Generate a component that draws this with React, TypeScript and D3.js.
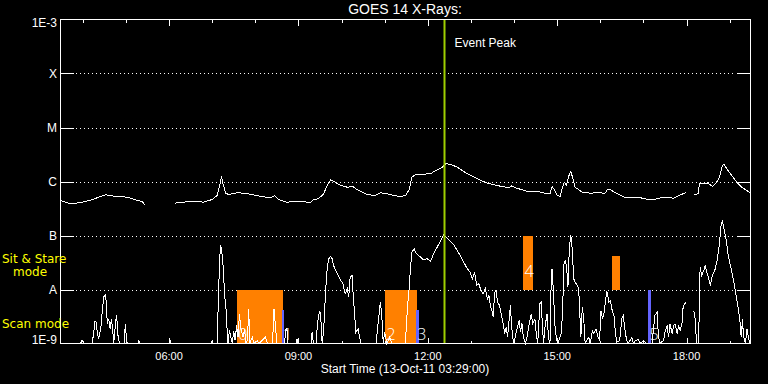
import * as d3 from "d3";

const DAY = "2011-10-13";
const START = "03:29";
const END = "19:29";
const PEAK = "12:22";

const yTickValues = [1e-3, 1e-4, 1e-5, 1e-6, 1e-7, 1e-8, 1e-9];
const yTickLabels = ["1E-3", "X", "M", "C", "B", "A", "1E-9"];
const gridLevels = [1e-4, 1e-5, 1e-6, 1e-7, 1e-8];

// GOES 1-8 A channel (W/m2), null = data gap
const longChannel: [string, number | null][] = [
  ["03:29", 4.45e-7], ["03:38", 4.03e-7], ["03:45", 3.86e-7], ["03:57", 4.08e-7],
  ["04:13", 4.58e-7], ["04:22", 5.12e-7], ["04:32", 5.67e-7], ["04:43", 5.35e-7],
  ["05:02", 5.12e-7], ["05:16", 4.45e-7], ["05:23", 4.26e-7], ["05:26", 3.7e-7],
  ["05:40", null],
  ["06:08", 3.97e-7], ["06:20", 4.14e-7], ["06:34", 4.32e-7], ["06:48", 4.14e-7],
  ["07:00", 4.64e-7], ["07:07", 5.51e-7], ["07:11", 9.06e-7], ["07:13", 1.24e-6],
  ["07:15", 9.06e-7], ["07:19", 6.07e-7], ["07:23", 5.74e-7], ["07:35", 6.18e-7],
  ["07:46", 6.07e-7], ["08:03", 5.43e-7], ["08:21", 4.99e-7], ["08:27", 5.43e-7],
  ["08:33", 4.58e-7], ["08:44", 4.14e-7], ["08:54", 4.26e-7], ["09:17", 4.14e-7],
  ["09:21", 4.58e-7], ["09:28", 4.79e-7], ["09:35", 5.92e-7], ["09:40", 8.43e-7],
  ["09:45", 1.07e-6], ["09:49", 1.01e-6], ["09:59", 8.43e-7], ["10:08", 7.84e-7],
  ["10:16", 8.07e-7], ["10:22", 7.02e-7], ["10:36", 5.74e-7], ["10:47", 5.51e-7],
  ["10:54", 6.18e-7], ["11:03", 5.92e-7], ["11:13", 5.51e-7], ["11:22", 5.28e-7],
  ["11:29", 5.51e-7], ["11:34", 7.02e-7], ["11:38", 1.2e-6], ["11:43", 1.35e-6],
  ["12:04", 1.39e-6], ["12:08", 1.51e-6], ["12:20", 1.84e-6], ["12:25", 2.13e-6],
  ["12:32", 2.07e-6], ["12:41", 1.84e-6], ["12:55", 1.39e-6], ["13:09", 1.12e-6],
  ["13:23", 9.3e-7], ["13:41", 8.18e-7], ["13:53", 7.64e-7], ["13:56", 8.3e-7],
  ["14:02", 7.64e-7], ["14:18", 6.61e-7], ["14:32", 6.61e-7], ["14:46", 5.92e-7],
  ["14:50", 5.92e-7], ["14:53", 8.18e-7], ["14:56", 7.02e-7], ["15:00", 5.51e-7],
  ["15:04", 5.28e-7], ["15:07", 7.32e-7], ["15:10", 9.7e-7], ["15:13", 8.43e-7],
  ["15:16", 1.24e-6], ["15:19", 1.55e-6], ["15:22", 1.12e-6], ["15:25", 7.84e-7],
  ["15:35", 6.34e-7], ["15:46", 6.07e-7], ["16:00", 6.26e-7], ["16:06", 5.92e-7],
  ["16:10", 7.1e-7], ["16:14", 7.1e-7], ["16:21", 6.18e-7], ["16:33", 5.12e-7],
  ["16:47", 5.12e-7], ["16:56", 4.99e-7], ["17:05", 4.7e-7], ["17:14", 4.64e-7],
  ["17:28", 5.12e-7], ["17:42", 4.91e-7], ["17:49", 5.51e-7], ["17:59", 6.18e-7],
  ["18:05", null],
  ["18:10", 5.74e-7], ["18:16", 5.92e-7], ["18:18", 9.06e-7], ["18:22", 9.3e-7],
  ["18:26", 9.06e-7], ["18:29", 9.46e-7], ["18:36", 8.07e-7], ["18:40", 9.06e-7],
  ["18:45", 1.12e-6], ["18:50", 1.98e-6], ["18:52", 2.07e-6], ["18:56", 1.72e-6],
  ["19:01", 1.39e-6], ["19:10", 9.7e-7], ["19:17", 7.84e-7], ["19:27", 6.34e-7],
  ["19:29", 6.07e-7],
];

// GOES 0.5-4 A channel (W/m2), 1e-9 = at the floor
const shortChannel: [string, number | null][] = [
  ["03:29", 1e-9], ["03:57", 1e-9], ["03:59", 1.17e-9], ["04:01", 1e-9], ["04:13", 1e-9],
  ["04:15", 1.51e-9], ["04:17", 2.61e-9], ["04:19", 2.48e-9], ["04:20", 1.62e-9],
  ["04:22", 1.24e-9], ["04:25", 1.87e-9], ["04:27", 3.8e-9], ["04:29", 7.2e-9],
  ["04:31", 7.98e-9], ["04:33", 5.82e-9], ["04:34", 2.32e-9], ["04:36", 2.87e-9],
  ["04:38", 1.87e-9], ["04:40", 2.87e-9], ["04:42", 1.51e-9], ["04:43", 1e-9],
  ["04:46", 2.67e-9], ["04:47", 3.4e-9], ["04:49", 1.41e-9], ["04:51", 1e-9],
  ["04:58", 1e-9], ["04:59", 2.32e-9], ["05:01", 1.14e-9], ["05:02", 1e-9],
  ["05:17", 1e-9], ["05:18", 1.14e-9], ["05:19", 1e-9], ["06:00", 1e-9],
  ["06:01", 1.28e-9], ["06:02", 1e-9], ["06:59", 1e-9], ["07:00", 1.14e-9],
  ["07:01", 1e-9], ["07:07", 1e-9], ["07:09", 1.03e-8], ["07:11", 4.91e-8],
  ["07:12", 6.53e-8], ["07:14", 4.26e-8], ["07:16", 2.09e-8], ["07:17", 8.32e-9],
  ["07:19", 5.05e-9], ["07:21", 1.62e-9], ["07:22", 1e-9], ["07:24", 1.74e-9],
  ["07:26", 1.31e-9], ["07:28", 1e-9], ["07:30", 1.67e-9], ["07:32", 1.14e-9],
  ["07:34", 2.15e-9], ["07:36", 1.31e-9], ["07:38", 3.55e-9], ["07:40", 1.87e-9],
  ["07:43", 1.31e-9], ["07:45", 1.87e-9], ["07:47", 1e-9], ["07:49", 1.14e-9],
  ["07:51", 4.39e-9], ["07:52", 1e-9], ["07:56", 1.31e-9], ["07:58", 1e-9],
  ["08:03", 1.14e-9], ["08:05", 1e-9], ["08:14", 1.31e-9], ["08:17", 1e-9],
  ["08:24", 1e-9], ["08:26", 4.39e-9], ["08:28", 2.15e-9], ["08:30", 1e-9],
  ["08:41", 1e-9], ["08:42", 1.82e-9], ["08:44", 1.92e-9], ["08:45", 1e-9],
  ["08:57", 1e-9], ["08:58", 1.22e-9], ["08:59", 1e-9], ["09:18", 1e-9],
  ["09:19", 1.62e-9], ["09:21", 1e-9], ["09:25", 1e-9], ["09:26", 1.87e-9],
  ["09:28", 3.3e-9], ["09:30", 3.91e-9], ["09:32", 2.15e-9], ["09:33", 1e-9],
  ["09:35", 1.62e-9], ["09:38", 1.03e-8], ["09:40", 2.42e-8], ["09:42", 3.71e-8],
  ["09:45", 4.08e-8], ["09:47", 3.71e-8], ["09:49", 2.78e-8], ["09:54", 1.95e-8],
  ["09:59", 1.47e-8], ["10:02", 1.28e-8], ["10:05", 8.32e-9], ["10:08", 1.03e-8],
  ["10:10", 7.2e-9], ["10:12", 1.69e-8], ["10:15", 1.82e-8], ["10:16", 8.91e-9],
  ["10:18", 3.8e-9], ["10:20", 1.62e-9], ["10:23", 1.87e-9], ["10:25", 1.31e-9],
  ["10:27", 1e-9], ["10:48", 1e-9], ["10:52", 3.3e-9], ["10:54", 5.82e-9],
  ["10:56", 3.3e-9], ["10:58", 1e-9], ["11:00", 1.62e-9], ["11:03", 1e-9],
  ["11:07", 1.31e-9], ["11:10", 1e-9], ["11:29", 1e-9], ["11:30", 2.0e-9],
  ["11:32", 5.05e-9], ["11:34", 1.03e-8], ["11:36", 2.59e-8], ["11:38", 4.91e-8],
  ["11:41", 5.67e-8], ["11:44", 4.7e-8], ["11:50", 3.96e-8], ["11:54", 3.55e-8],
  ["11:59", 3.71e-8], ["12:04", 3.34e-8], ["12:08", 4.58e-8], ["12:13", 6.07e-8],
  ["12:18", 8.07e-8], ["12:22", 1.03e-7], ["12:27", 8.91e-8], ["12:32", 7.74e-8],
  ["12:36", 6.73e-8], ["12:41", 5.28e-8], ["12:45", 4.26e-8], ["12:50", 3.2e-8],
  ["12:55", 2.42e-8], ["12:59", 2.09e-8], ["13:02", 1.58e-8], ["13:05", 2.09e-8],
  ["13:08", 1.19e-8], ["13:11", 1.28e-8], ["13:14", 9.57e-9], ["13:17", 8.32e-9],
  ["13:20", 1.03e-8], ["13:23", 6.73e-9], ["13:25", 7.74e-9], ["13:27", 5.05e-9],
  ["13:30", 3.8e-9], ["13:31", 3.07e-9], ["13:33", 8.91e-9], ["13:35", 9.57e-9],
  ["13:37", 5.82e-9], ["13:40", 5.05e-9], ["13:42", 3.55e-9], ["13:45", 2.32e-9],
  ["13:47", 1.53e-9], ["13:49", 2.0e-9], ["13:51", 1.31e-9], ["13:55", 5.05e-9],
  ["13:56", 2.87e-9], ["13:58", 1.31e-9], ["14:00", 1e-9], ["14:03", 1.62e-9],
  ["14:07", 2.67e-9], ["14:09", 1.62e-9], ["14:11", 2.42e-9], ["14:13", 1.31e-9],
  ["14:16", 1e-9], ["14:18", 1.31e-9], ["14:22", 2.67e-9], ["14:24", 3.55e-9],
  ["14:26", 2.32e-9], ["14:29", 2.87e-9], ["14:31", 1.51e-9], ["14:33", 1e-9],
  ["14:36", 5.43e-9], ["14:38", 5.82e-9], ["14:39", 2.87e-9], ["14:41", 1e-9],
  ["14:43", 2.0e-9], ["14:46", 3.55e-9], ["14:48", 1.24e-9], ["14:50", 1e-9],
  ["14:52", 2.25e-8], ["14:53", 2.42e-8], ["14:55", 7.74e-9], ["14:57", 2.15e-9],
  ["14:59", 1.22e-9], ["15:01", 1e-9], ["15:06", 1.62e-9], ["15:08", 5.82e-9],
  ["15:09", 2.78e-8], ["15:11", 3.44e-8], ["15:13", 2.78e-8], ["15:15", 1.1e-8],
  ["15:17", 6.07e-8], ["15:19", 1.0e-7], ["15:21", 5.67e-8], ["15:23", 1.58e-8],
  ["15:25", 1.36e-8], ["15:28", 1.19e-8], ["15:30", 1.03e-8], ["15:31", 5.05e-9],
  ["15:33", 1.31e-9], ["15:35", 4.7e-9], ["15:37", 2.87e-9], ["15:39", 1e-9],
  ["15:44", 1.31e-9], ["15:46", 1e-9], ["15:49", 1.74e-9], ["15:51", 1.51e-9],
  ["15:54", 1.87e-9], ["15:57", 1.31e-9], ["15:59", 1.14e-9], ["16:01", 4.08e-9],
  ["16:03", 2.87e-9], ["16:05", 3.55e-9], ["16:07", 5.82e-9], ["16:09", 9.18e-9],
  ["16:10", 8.32e-9], ["16:12", 5.82e-9], ["16:14", 6.25e-9], ["16:16", 4.39e-9],
  ["16:19", 3.3e-9], ["16:21", 1.62e-9], ["16:23", 1.06e-9], ["16:27", 1.14e-9],
  ["16:30", 2.87e-9], ["16:32", 3.3e-9], ["16:35", 1.51e-9], ["16:37", 1.14e-9],
  ["16:39", 1e-9], ["16:44", 1.31e-9], ["16:46", 1e-9], ["16:49", 1.14e-9],
  ["16:53", 1.19e-9], ["16:56", 1e-9], ["17:00", 1.14e-9], ["17:04", 1e-9],
  ["17:12", 1e-9], ["17:16", 3.3e-9], ["17:19", 3.8e-9], ["17:21", 1.31e-9],
  ["17:23", 1e-9], ["17:28", 1.14e-9], ["17:30", 1.62e-9], ["17:33", 2.15e-9],
  ["17:35", 1.31e-9], ["17:37", 2.32e-9], ["17:40", 1.51e-9], ["17:42", 2.15e-9],
  ["17:44", 2.32e-9], ["17:47", 1.51e-9], ["17:49", 2.15e-9], ["17:51", 1.74e-9],
  ["17:54", 2.48e-9], ["17:55", 4.39e-9], ["17:57", 5.43e-9], ["17:59", 5.67e-9],
  ["18:04", null],
  ["18:10", 4.08e-9], ["18:12", 2.87e-9], ["18:14", 1e-9], ["18:17", 1e-9],
  ["18:18", 1.19e-8], ["18:19", 2.59e-8], ["18:21", 1.82e-8], ["18:24", 2.25e-8],
  ["18:26", 2.78e-8], ["18:28", 2.09e-8], ["18:31", 1.58e-8], ["18:33", 1.19e-8],
  ["18:36", 1.82e-8], ["18:40", 2.42e-8], ["18:43", 3.71e-8], ["18:46", 7.52e-8],
  ["18:48", 1.53e-7], ["18:50", 1.9e-7], ["18:52", 1.33e-7], ["18:55", 8.69e-8],
  ["18:58", 4.26e-8], ["19:02", 2.42e-8], ["19:05", 1.58e-8], ["19:09", 7.74e-9],
  ["19:12", 4.39e-9], ["19:15", 2.15e-9], ["19:16", 1.31e-9], ["19:18", 2.87e-9],
  ["19:19", 1.41e-9], ["19:22", 1e-9], ["19:24", 1.87e-9], ["19:26", 1.31e-9],
  ["19:28", 1e-9],
];

// observation windows: label, start, end, low flux, high flux
const orangeObs: [string, string, string, number, number][] = [
  ["0", "07:35", "08:38", 1e-9, 1e-8],
  ["2", "11:01", "11:45", 1e-9, 1e-8],
  ["4", "14:13", "14:26", 1e-8, 1e-7],
  ["", "16:16", "16:27", 1e-8, 4.1e-8],
];
const blueObs: [string, string, string, number, number][] = [
  ["1", "08:37", "08:40", 1e-9, 4.1e-9],
  ["3", "11:44", "11:48", 1e-9, 4.1e-9],
  ["5", "17:07", "17:11", 1e-9, 1e-8],
];

const parse = d3.utcParse("%Y-%m-%d %H:%M");
const t = (hm: string) => parse(`${DAY} ${hm}`) as Date;

const W = 768;
const H = 384;
const margin = { top: 19.5, right: 750.5, bottom: 343.5, left: 60.5 };
const axisFont = "'Liberation Sans', Arial, sans-serif";
const modeFont = "'DejaVu Sans', sans-serif";

const App = () => {
  const x = d3.scaleUtc().domain([t(START), t(END)]).range([margin.left, margin.right]);
  const y = d3
    .scaleLog()
    .domain([1e-9, 1e-3])
    .range([margin.bottom, margin.top])
    .clamp(true);

  const line = d3
    .line<[string, number | null]>()
    .defined((d) => d[1] !== null)
    .x((d) => x(t(d[0])))
    .y((d) => y(d[1] as number));

  const hourTicks = x.ticks(d3.utcHour.every(1) as d3.TimeInterval);
  const labelTicks = x.ticks(d3.utcHour.every(3) as d3.TimeInterval);
  const fmt = d3.utcFormat("%H:%M");

  const obsRect = (o: [string, string, string, number, number], fill: string, i: number) => {
    const x0 = Math.round(x(t(o[1])));
    const x1 = Math.round(x(t(o[2])));
    return (
      <rect
        key={fill + i}
        x={x0}
        y={Math.round(y(o[4]))}
        width={Math.max(2, x1 - x0)}
        height={Math.round(y(o[3])) - Math.round(y(o[4]))}
        fill={fill}
      />
    );
  };

  const obsLabel = (o: [string, string, string, number, number], i: number) =>
    o[0] ? (
      <text
        key={"l" + i}
        x={x(t(o[1])) + 1}
        y={y(o[3]) - (o[3] <= 1e-9 ? 4 : 13)}
        fill="white"
        fontFamily="'Open Sans', sans-serif"
        fontWeight={300}
        fontSize={16}
      >
        {o[0]}
      </text>
    ) : null;

  return (
    <svg
      width={W}
      height={H}
      style={{ position: "absolute", left: 0, top: 0, display: "block" }}
    >
      <rect width={W} height={H} fill="black" />

      {/* title */}
      <text x={405} y={14} fill="white" fontFamily={axisFont} fontSize={14} textAnchor="middle">
        GOES 14 X-Rays:
      </text>

      {/* grid levels */}
      {gridLevels.map((v) => (
        <g key={v} stroke="white" shapeRendering="crispEdges">
          <line x1={margin.left} x2={74} y1={Math.round(y(v)) + 0.5} y2={Math.round(y(v)) + 0.5} />
          <line x1={737} x2={margin.right} y1={Math.round(y(v)) + 0.5} y2={Math.round(y(v)) + 0.5} />
          <line
            x1={76}
            x2={736}
            y1={Math.round(y(v)) + 0.5}
            y2={Math.round(y(v)) + 0.5}
            strokeDasharray="1,3"
          />
        </g>
      ))}

      {/* observation windows */}
      {orangeObs.map((o, i) => obsRect(o, "#ff8000", i))}
      {blueObs.map((o, i) => obsRect(o, "#6464ff", i))}

      {/* flux curves */}
      <path
        d={line(longChannel) ?? ""}
        fill="none"
        stroke="white"
        strokeWidth={1}
        shapeRendering="crispEdges"
      />
      <path
        d={line(shortChannel) ?? ""}
        fill="none"
        stroke="white"
        strokeWidth={1}
        shapeRendering="crispEdges"
      />

      {orangeObs.map((o, i) => obsLabel(o, i))}
      {blueObs.map((o, i) => obsLabel(o, i + 10))}

      {/* event peak */}
      <line
        x1={Math.round(x(t(PEAK))) + 0.5}
        x2={Math.round(x(t(PEAK))) + 0.5}
        y1={margin.top}
        y2={margin.bottom}
        stroke="#9fcf00"
        strokeWidth={2}
      />
      <text x={x(t(PEAK)) + 11} y={47} fill="white" fontFamily={axisFont} fontSize={12}>
        Event Peak
      </text>

      {/* frame */}
      <rect
        x={margin.left}
        y={margin.top}
        width={margin.right - margin.left}
        height={margin.bottom - margin.top}
        fill="none"
        stroke="white"
        shapeRendering="crispEdges"
      />

      {/* time ticks, top and bottom */}
      {hourTicks.map((d) => {
        const major = d.getUTCHours() % 3 === 0;
        const len = major ? 6 : 3;
        const px = Math.round(x(d)) + 0.5;
        return (
          <g key={d.getTime()} stroke="white" shapeRendering="crispEdges">
            <line x1={px} x2={px} y1={margin.top} y2={margin.top + len} />
            <line x1={px} x2={px} y1={margin.bottom} y2={margin.bottom - len} />
          </g>
        );
      })}
      {labelTicks.map((d) => (
        <text
          key={d.getTime()}
          x={x(d)}
          y={360}
          fill="white"
          fontFamily={axisFont}
          fontSize={11}
          textAnchor="middle"
        >
          {fmt(d)}
        </text>
      ))}
      <text x={405} y={373} fill="white" fontFamily={axisFont} fontSize={12} textAnchor="middle">
        Start Time (13-Oct-11 03:29:00)
      </text>

      {/* flux class labels */}
      {yTickValues.map((v, i) => (
        <text
          key={v}
          x={57}
          y={Math.min(Math.max(y(v), 23), 340)}
          dy="0.36em"
          fill="white"
          fontFamily={axisFont}
          fontSize={12}
          textAnchor="end"
        >
          {yTickLabels[i]}
        </text>
      ))}

      {/* mode labels */}
      <g fill="#ffff00" fontFamily={modeFont} fontSize={12}>
        <text x={2} y={263}>Sit &amp; Stare</text>
        <text x={13} y={276}>mode</text>
        <text x={2} y={328}>Scan mode</text>
      </g>
    </svg>
  );
};

export default App;
